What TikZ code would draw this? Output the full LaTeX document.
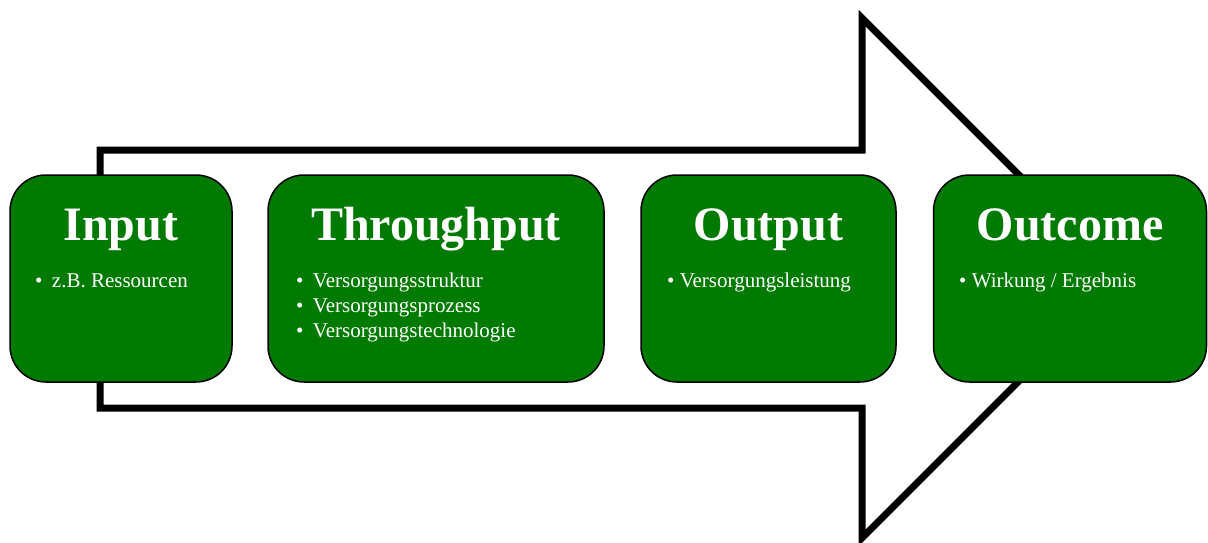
\documentclass[tikz,border=0pt]{standalone}
\usepackage{fontspec}
\setmainfont{Liberation Serif}
\usepackage{tikz}

\definecolor{boxgreen}{RGB}{0,122,0}

\tikzset{
  stage/.style={draw=black, line width=1.5pt, fill=boxgreen, rounded corners=36pt, inner sep=0pt},
  head/.style={anchor=base, text=white, font=\fontsize{48}{50}\selectfont\bfseries},
  item/.style={anchor=base west, text=white, inner sep=0pt, font=\fontsize{21}{25}\selectfont}
}

\begin{document}
\begin{tikzpicture}[x=1pt,y=-1pt]

      \useasboundingbox (0,0) rectangle (1208,543);

      % draw big arrow
      \draw[line width=7pt] (100,150) -- (862,150) -- (862,18) -- (1122,278)
            -- (862,538) -- (862,408) -- (100,408) -- cycle;

      % draw stage boxes
      \node[stage, minimum width=222pt, minimum height=207pt] (input) at (121,278.5) {};
      \node[stage, minimum width=336pt, minimum height=207pt] (through) at (436,278.5) {};
      \node[stage, minimum width=255pt, minimum height=207pt] (output) at (768.5,278.5) {};
      \node[stage, minimum width=273pt, minimum height=207pt] (outcome) at (1070,278.5) {};

      % draw headings
      \node[head] (inhead) at (input.center |- 0,240) {Input};
      \node[head] (throughhead) at (through.center |- 0,240) {Throughput};
      \node[head] (outhead) at (output.center |- 0,240) {Output};
      \node[head] (outcomehead) at (outcome.center |- 0,240) {Outcome};

      % draw bullet items
      \node[item] (initem) at (35,287) {\textbullet\hspace{0.45em}z.B. Ressourcen};
      \foreach \t [count=\i] in {Versorgungsstruktur,Versorgungsprozess,Versorgungstechnologie}
      \node[item] (throughitem\i) at (296,262+25*\i) {\textbullet\hspace{0.45em}\t};
      \node[item] (outitem) at (667,287) {\textbullet\ Versorgungsleistung};
      \node[item] (outcomeitem) at (959,287) {\textbullet\ Wirkung / Ergebnis};

\end{tikzpicture}
\end{document}
